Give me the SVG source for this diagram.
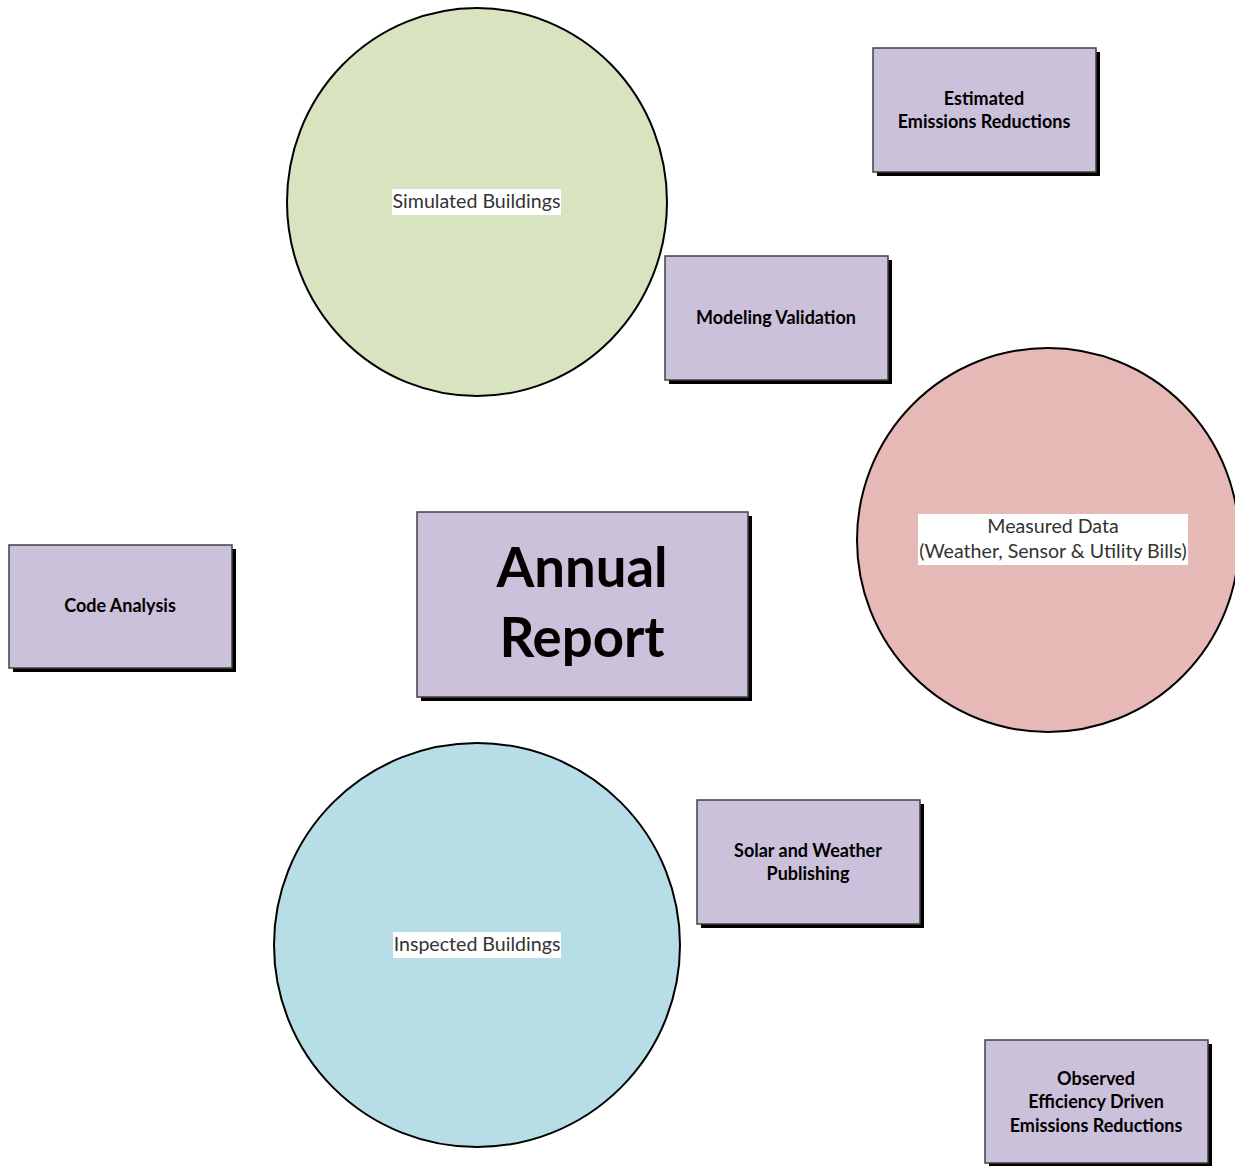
<svg xmlns="http://www.w3.org/2000/svg" width="1235" height="1166" viewBox="0 0 1235 1166">
<style>
.box{fill:#ccc1da;stroke:#404040;stroke-width:1.5}
.sh{fill:#000}
.bt{font-family:Lato,"Liberation Sans",sans-serif;font-weight:bold;font-size:18px;fill:#000;text-anchor:middle}
.ct{font-family:Lato,"Liberation Sans",sans-serif;font-size:19.6px;fill:#333;text-anchor:middle}
.circ{stroke:#000;stroke-width:2}
.lbg{fill:#fff}
</style>
<rect width="1235" height="1166" fill="#fff"/>
<g id="connectors"></g>
<g id="simulated">
<ellipse class="circ" cx="477" cy="202" rx="190" ry="194" fill="#d8e4bf"/>
<rect class="lbg" x="392" y="189" width="169" height="26"/>
<text class="ct" x="476.5" y="208">Simulated Buildings</text>
</g>
<g id="measured">
<ellipse class="circ" cx="1048" cy="540" rx="191" ry="192" fill="#e6b8b6"/>
<rect class="lbg" x="918" y="514" width="270" height="51"/>
<text class="ct" x="1053" y="533">Measured Data</text>
<text class="ct" x="1053" y="558">(Weather, Sensor &amp; Utility Bills)</text>
</g>
<g id="inspected">
<ellipse class="circ" cx="477" cy="945" rx="203" ry="202" fill="#b7dee6"/>
<rect class="lbg" x="393" y="932" width="168" height="26"/>
<text class="ct" x="477" y="951">Inspected Buildings</text>
</g>
<g id="estimated">
<rect class="sh" x="877" y="52" width="223" height="124"/>
<rect class="box" x="873" y="48" width="223" height="124"/>
<text class="bt" x="984" y="105">Estimated</text>
<text class="bt" x="984" y="128">Emissions Reductions</text>
</g>
<g id="modeling">
<rect class="sh" x="669" y="260" width="223" height="124"/>
<rect class="box" x="665" y="256" width="223" height="124"/>
<text class="bt" x="776" y="324">Modeling Validation</text>
</g>
<g id="annual">
<rect class="sh" x="421" y="516" width="331" height="185"/>
<rect class="box" x="417" y="512" width="331" height="185"/>
<text class="bt" x="582" y="587" style="font-size:54.5px">Annual</text>
<text class="bt" x="582" y="657" style="font-size:54.5px">Report</text>
</g>
<g id="code">
<rect class="sh" x="13" y="549" width="223" height="123"/>
<rect class="box" x="9" y="545" width="223" height="123"/>
<text class="bt" x="120" y="612">Code Analysis</text>
</g>
<g id="solar">
<rect class="sh" x="701" y="804" width="223" height="124"/>
<rect class="box" x="697" y="800" width="223" height="124"/>
<text class="bt" x="808" y="857">Solar and Weather</text>
<text class="bt" x="808" y="880">Publishing</text>
</g>
<g id="observed">
<rect class="sh" x="989" y="1044" width="223" height="123"/>
<rect class="box" x="985" y="1040" width="223" height="123"/>
<text class="bt" x="1096" y="1085">Observed</text>
<text class="bt" x="1096" y="1108">Efficiency Driven</text>
<text class="bt" x="1096" y="1132">Emissions Reductions</text>
</g>
</svg>
